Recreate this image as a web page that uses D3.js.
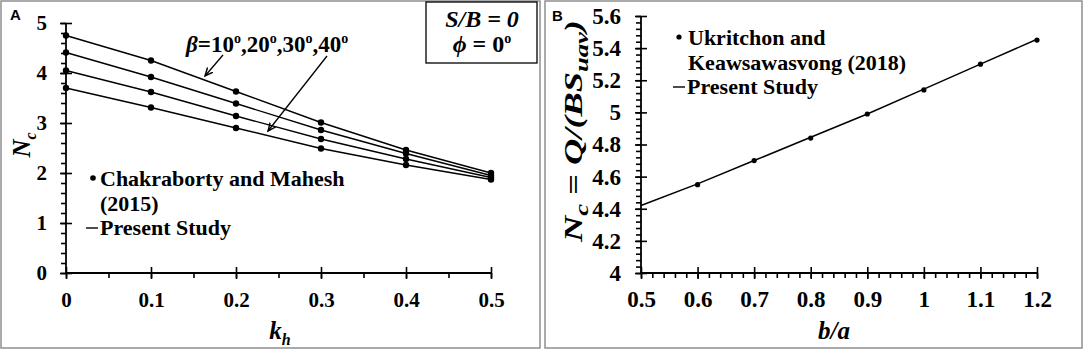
<!DOCTYPE html>
<html><head><meta charset="utf-8">
<script src="https://cdn.jsdelivr.net/npm/d3@7"></script>
<style>
html,body{margin:0;padding:0;background:#fff;}
svg{display:block;}
text{font-family:"Liberation Serif","Times New Roman",serif;font-weight:bold;fill:#000;}
</style></head><body>
<svg id="chart" width="1084" height="350"></svg>
<script>
// ---- Panel A data ----
const khValues = [0, 0.1, 0.2, 0.3, 0.4, 0.5];
const chakraborty10 = [4.75, 4.25, 3.63, 3.01, 2.46, 2.00];
const chakraborty20 = [4.41, 3.92, 3.39, 2.86, 2.39, 1.95];
const chakraborty30 = [4.05, 3.62, 3.14, 2.68, 2.28, 1.91];
const chakraborty40 = [3.70, 3.31, 2.90, 2.49, 2.16, 1.87];
const present10 = [4.75, 4.25, 3.63, 3.01, 2.46, 2.00];
const present20 = [4.41, 3.92, 3.39, 2.86, 2.39, 1.95];
const present30 = [4.05, 3.62, 3.14, 2.68, 2.28, 1.91];
const present40 = [3.70, 3.31, 2.90, 2.49, 2.16, 1.87];
const xTicksA = [0, 0.1, 0.2, 0.3, 0.4, 0.5];
const yTicksA = [0, 1, 2, 3, 4, 5];

// ---- Panel B data ----
const baValues = [0.5, 0.6, 0.7, 0.8, 0.9, 1.0, 1.1, 1.2];
const presentB = [4.42, 4.555, 4.70, 4.845, 4.99, 5.145, 5.30, 5.455];
const ukritchonBa = [0.6, 0.7, 0.8, 0.9, 1.0, 1.1, 1.2];
const ukritchonNc = [4.55, 4.70, 4.84, 4.99, 5.14, 5.30, 5.45];
const xTicksB = [0.5, 0.6, 0.7, 0.8, 0.9, 1.0, 1.1, 1.2];
const yTicksB = [4, 4.2, 4.4, 4.6, 4.8, 5, 5.2, 5.4, 5.6];

const svg = d3.select("#chart");

// panel borders
svg.append("rect").attr("x",1).attr("y",1).attr("width",539).attr("height",347)
  .attr("fill","none").attr("stroke","#8f8f8f").attr("stroke-width",1.5);
svg.append("rect").attr("x",545).attr("y",1).attr("width",537).attr("height",347)
  .attr("fill","none").attr("stroke","#8f8f8f").attr("stroke-width",1.5);

svg.append("text").attr("x",10).attr("y",20).style("font-family","'Liberation Sans',Arial,sans-serif")
  .style("font-size","15px").text("A");
svg.append("text").attr("x",552).attr("y",21).style("font-family","'Liberation Sans',Arial,sans-serif")
  .style("font-size","15px").text("B");

function rangeStep(a,b,s){const out=[];const n=Math.round((b-a)/s);for(let i=0;i<=n;i++)out.push(+(a+i*s).toFixed(6));return out;}

function drawAxes(g, x, y, xMajor, yMajor, xMinorStep, yMinorStep, xFmt, yFmt, fsx, fsy, padX, padY){
  const [x0] = x.range(); const [y0] = y.range();
  const xd = x.domain(), yd = y.domain();
  const xMinor = rangeStep(xd[0], xd[1], xMinorStep);
  const yMinor = rangeStep(yd[0], yd[1], yMinorStep);
  g.append("g").attr("transform",`translate(0,${y0})`)
    .call(d3.axisBottom(x).tickValues(xMinor).tickSize(5).tickFormat(""))
    .call(a=>a.select(".domain").remove());
  g.append("g").attr("transform",`translate(0,${y0})`)
    .call(d3.axisTop(x).tickValues(xMajor).tickSize(6).tickFormat(""))
    .call(a=>a.select(".domain").remove());
  const xa = g.append("g").attr("class","xlab").attr("transform",`translate(0,${y0})`)
    .call(d3.axisBottom(x).tickValues(xMajor).tickSize(6).tickPadding(padX).tickFormat(xFmt));
  xa.select(".domain").attr("d",`M${x.range()[0]},0H${x.range()[1]}`);
  g.append("g").attr("transform",`translate(${x0},0)`)
    .call(d3.axisLeft(y).tickValues(yMinor).tickSize(5).tickFormat(""))
    .call(a=>a.select(".domain").remove());
  g.append("g").attr("transform",`translate(${x0},0)`)
    .call(d3.axisRight(y).tickValues(yMajor).tickSize(6).tickFormat(""))
    .call(a=>a.select(".domain").remove());
  const ya = g.append("g").attr("class","ylab").attr("transform",`translate(${x0},0)`)
    .call(d3.axisLeft(y).tickValues(yMajor).tickSize(6).tickPadding(padY).tickFormat(yFmt));
  ya.select(".domain").attr("d",`M0,${y.range()[0]}V${y.range()[1]}`);
  g.selectAll(".tick line").attr("stroke","#000").attr("stroke-width",1.6);
  g.selectAll(".domain").attr("stroke","#000").attr("stroke-width",1.8);
  g.selectAll(".tick text").style("font-family","'Liberation Serif','Times New Roman',serif")
    .style("font-weight","bold").attr("fill","#000");
  xa.selectAll(".tick text").style("font-size",fsx+"px");
  ya.selectAll(".tick text").style("font-size",fsy+"px");
}

// ================= Panel A =================
const gA = svg.append("g");
const xA = d3.scaleLinear().domain([0,0.5]).range([66,491]);
const yA = d3.scaleLinear().domain([0,5]).range([273,23]);
drawAxes(gA, xA, yA, xTicksA, yTicksA, 0.05, 0.2, d=>d===0?"0":d3.format(".1f")(d), d=>d, 21, 21, 13, 13);

const lineA = d3.line().x(d=>xA(d[0])).y(d=>yA(d[1]));
[present10, present20, present30, present40].forEach(s=>{
  gA.append("path").datum(khValues.map((k,i)=>[k,s[i]])).attr("d",lineA)
    .attr("fill","none").attr("stroke","#000").attr("stroke-width",1.4);
});
[chakraborty10, chakraborty20, chakraborty30, chakraborty40].forEach(s=>{
  gA.selectAll(null).data(khValues.map((k,i)=>[k,s[i]])).enter().append("circle")
    .attr("cx",d=>xA(d[0])).attr("cy",d=>yA(d[1])).attr("r",3.2).attr("fill","#000");
});

// axis titles A
const ytA = gA.append("text").attr("transform","translate(30,145) rotate(-90)").attr("text-anchor","middle")
  .style("font-size","25px");
ytA.append("tspan").style("font-style","italic").text("N");
ytA.append("tspan").style("font-style","italic").style("font-size","16px").attr("dy",6).text("c");
const xtA = gA.append("text").attr("x",280).attr("y",339).attr("text-anchor","middle").style("font-size","25px");
xtA.append("tspan").style("font-style","italic").text("k");
xtA.append("tspan").style("font-style","italic").style("font-size","16px").attr("dy",6).text("h");

// beta annotation
const bt = gA.append("text").attr("x",186).attr("y",52).style("font-size","23px");
bt.append("tspan").style("font-style","italic").text("β");
bt.append("tspan").text("=10");
bt.append("tspan").attr("dy",-9).style("font-size","14px").text("o");
bt.append("tspan").attr("dy",9).text(",20");
bt.append("tspan").attr("dy",-9).style("font-size","14px").text("o");
bt.append("tspan").attr("dy",9).text(",30");
bt.append("tspan").attr("dy",-9).style("font-size","14px").text("o");
bt.append("tspan").attr("dy",9).text(",40");
bt.append("tspan").attr("dy",-9).style("font-size","14px").text("o");

const defs = svg.append("defs");
defs.append("marker").attr("id","arr").attr("viewBox","0 0 10 10").attr("refX",9).attr("refY",5)
  .attr("markerWidth",9).attr("markerHeight",9).attr("orient","auto").attr("markerUnits","userSpaceOnUse")
  .append("path").attr("d","M0,1 L9,5 L0,9").attr("fill","none").attr("stroke","#000").attr("stroke-width",1.6);
gA.append("line").attr("x1",223).attr("y1",55).attr("x2",205).attr("y2",76)
  .attr("stroke","#000").attr("stroke-width",1.3).attr("marker-end","url(#arr)");
gA.append("line").attr("x1",327).attr("y1",56).attr("x2",268).attr("y2",131)
  .attr("stroke","#000").attr("stroke-width",1.3).attr("marker-end","url(#arr)");

// legend A
gA.append("circle").attr("cx",93).attr("cy",178).attr("r",2.8).attr("fill","#000");
gA.append("text").attr("x",100).attr("y",186).style("font-size","22px").text("Chakraborty and Mahesh");
gA.append("text").attr("x",100).attr("y",211).style("font-size","22px").text("(2015)");
gA.append("line").attr("x1",86).attr("x2",98).attr("y1",228).attr("y2",228).attr("stroke","#000").attr("stroke-width",1.4);
gA.append("text").attr("x",100).attr("y",235).style("font-size","22px").text("Present Study");

// info box
gA.append("rect").attr("x",426).attr("y",2).attr("width",111).attr("height",61)
  .attr("fill","#fff").attr("stroke","#000").attr("stroke-width",1.3);
gA.append("text").attr("x",482).attr("y",27).attr("text-anchor","middle").style("font-size","24px")
  .style("font-style","italic").text("S/B = 0");
const pt = gA.append("text").attr("x",482).attr("y",52).attr("text-anchor","middle").style("font-size","24px");
pt.append("tspan").style("font-style","italic").text("ϕ");
pt.append("tspan").text(" = 0");
pt.append("tspan").attr("dy",-9).style("font-size","14px").text("o");

// ================= Panel B =================
const gB = svg.append("g");
const xB = d3.scaleLinear().domain([0.5,1.2]).range([641,1037]);
const yB = d3.scaleLinear().domain([4,5.6]).range([273,16]);
drawAxes(gB, xB, yB, xTicksB, yTicksB, 0.02, 0.04, d=>d===1?"1":d3.format(".1f")(d), d=>(d===4||d===5)?String(d):d3.format(".1f")(d), 23, 23, 12, 14);

const lineB = d3.line().x(d=>xB(d[0])).y(d=>yB(d[1]));
gB.append("path").datum(baValues.map((b,i)=>[b,presentB[i]])).attr("d",lineB)
  .attr("fill","none").attr("stroke","#000").attr("stroke-width",1.5);
gB.selectAll(null).data(ukritchonBa.map((b,i)=>[b,ukritchonNc[i]])).enter().append("circle")
  .attr("cx",d=>xB(d[0])).attr("cy",d=>yB(d[1])).attr("r",2.6).attr("fill","#000");

// titles B
const ytB = gB.append("text").attr("transform","translate(582,131) rotate(-90)").attr("text-anchor","middle")
  .style("font-size","26px").attr("textLength",222).attr("lengthAdjust","spacingAndGlyphs");
ytB.append("tspan").style("font-style","italic").text("N");
ytB.append("tspan").style("font-style","italic").style("font-size","19px").attr("dy",6).text("c");
ytB.append("tspan").attr("dy",-6).text(" = ");
ytB.append("tspan").style("font-style","italic").text("Q/(BS");
ytB.append("tspan").style("font-style","italic").style("font-size","19px").attr("dy",6).text("uav");
ytB.append("tspan").style("font-style","italic").attr("dy",-6).text(")");
gB.append("text").attr("x",834).attr("y",339).attr("text-anchor","middle").style("font-size","25px")
  .style("font-style","italic").text("b/a");

// legend B
gB.append("circle").attr("cx",679).attr("cy",37).attr("r",2.6).attr("fill","#000");
gB.append("text").attr("x",688).attr("y",45).style("font-size","22px").text("Ukritchon and");
gB.append("text").attr("x",688).attr("y",70).style("font-size","22px").text("Keawsawasvong (2018)");
gB.append("line").attr("x1",673).attr("x2",685).attr("y1",87).attr("y2",87).attr("stroke","#000").attr("stroke-width",1.4);
gB.append("text").attr("x",687).attr("y",94).style("font-size","22px").text("Present Study");
</script>
</body></html>
